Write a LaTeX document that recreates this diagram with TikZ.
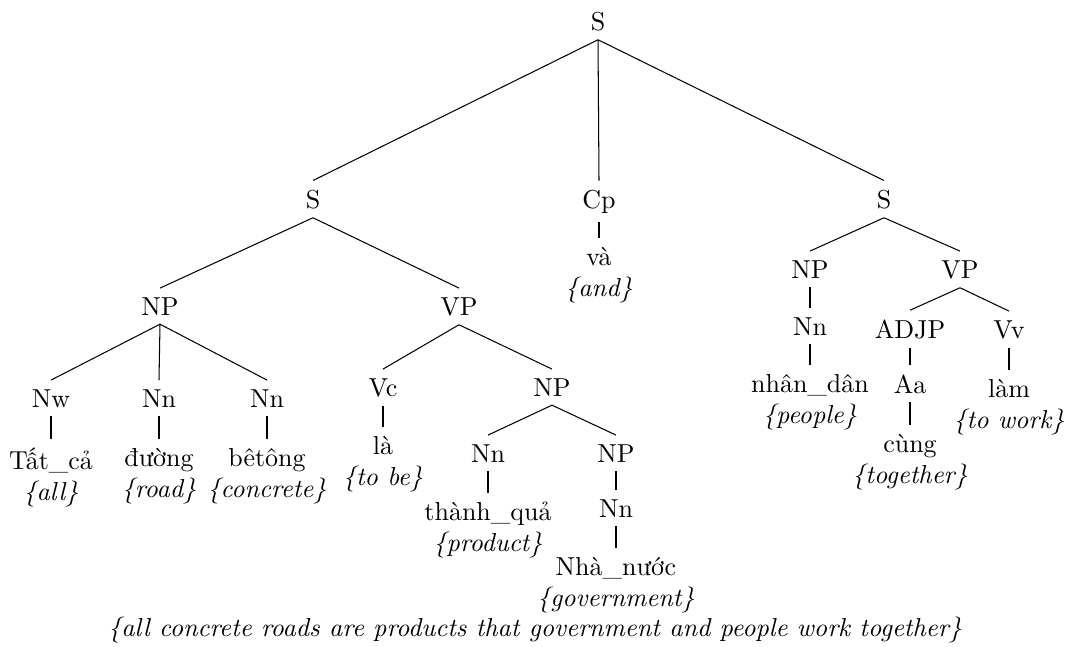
\documentclass[tikz,border=0pt]{standalone}

\newcommand{\gloss}[1]{\textit{\{#1\}}}

\begin{document}
\begin{tikzpicture}[x = 0.385pt, y = -0.385pt, cat/.style = {anchor = base}, leaf/.style = {anchor = north, align = center}]
	\useasboundingbox (0, 0) rectangle (1069, 646);
	% categories
	\node[cat] (s) at (598, 30) {S};
	\node[cat] (s1) at (313, 208) {S};
	\node[cat] (cp) at (599, 208) {Cp};
	\node[cat] (s2) at (884, 208) {S};
	\node[cat] (np1) at (160, 315) {NP};
	\node[cat] (vp1) at (459, 315) {VP};
	\node[cat] (nw) at (51, 407) {Nw};
	\node[cat] (nn1) at (159, 407) {Nn};
	\node[cat] (nn2) at (267, 407) {Nn};
	\node[cat] (vc) at (383, 396) {Vc};
	\node[cat] (np2) at (552, 396) {NP};
	\node[cat] (nn3) at (488, 462) {Nn};
	\node[cat] (np3) at (616, 462) {NP};
	\node[cat] (nn4) at (616, 517) {Nn};
	\node[cat] (np4) at (810, 278) {NP};
	\node[cat] (vp2) at (960, 278) {VP};
	\node[cat] (nn5) at (810, 335) {Nn};
	\node[cat] (adjp) at (910, 338) {ADJP};
	\node[cat] (vv) at (1009, 338) {Vv};
	\node[cat] (aa) at (910, 393) {Aa};
	% words with their glosses
	\node[leaf] (va) at (599, 238) {và\\\gloss{and}};
	\node[leaf] (tatca) at (51, 439) {Tất\_cả\\\gloss{all}};
	\node[leaf] (duong) at (159, 439) {đường\\\gloss{road}};
	\node[leaf] (betong) at (267, 439) {bêtông\\\gloss{concrete}};
	\node[leaf] (la) at (383, 427) {là\\\gloss{to be}};
	\node[leaf] (thanhqua) at (488, 493) {thành\_quả\\\gloss{product}};
	\node[leaf] (nhanuoc) at (616, 548) {Nhà\_nước\\\gloss{government}};
	\node[leaf] (nhandan) at (810, 365) {nhân\_dân\\\gloss{people}};
	\node[leaf] (lam) at (1009, 370) {làm\\\gloss{to work}};
	\node[leaf] (cung) at (910, 425) {cùng\\\gloss{together}};
	\node[cat] (sentence) at (535, 636) {\gloss{all concrete roads are products that government and people work together}};
	% edges
	\draw (s.south) -- (s1.north);
	\draw (s.south) -- (cp.north);
	\draw (s.south) -- (s2.north);
	\draw (cp.south) -- (va.north);
	\draw (s1.south) -- (np1.north);
	\draw (s1.south) -- (vp1.north);
	\draw (np1.south) -- (nw.north);
	\draw (np1.south) -- (nn1.north);
	\draw (np1.south) -- (nn2.north);
	\draw (nw.south) -- (tatca.north);
	\draw (nn1.south) -- (duong.north);
	\draw (nn2.south) -- (betong.north);
	\draw (vp1.south) -- (vc.north);
	\draw (vp1.south) -- (np2.north);
	\draw (vc.south) -- (la.north);
	\draw (np2.south) -- (nn3.north);
	\draw (np2.south) -- (np3.north);
	\draw (nn3.south) -- (thanhqua.north);
	\draw (np3.south) -- (nn4.north);
	\draw (nn4.south) -- (nhanuoc.north);
	\draw (s2.south) -- (np4.north);
	\draw (s2.south) -- (vp2.north);
	\draw (np4.south) -- (nn5.north);
	\draw (nn5.south) -- (nhandan.north);
	\draw (vp2.south) -- (adjp.north);
	\draw (vp2.south) -- (vv.north);
	\draw (adjp.south) -- (aa.north);
	\draw (aa.south) -- (cung.north);
	\draw (vv.south) -- (lam.north);
\end{tikzpicture}
\end{document}
